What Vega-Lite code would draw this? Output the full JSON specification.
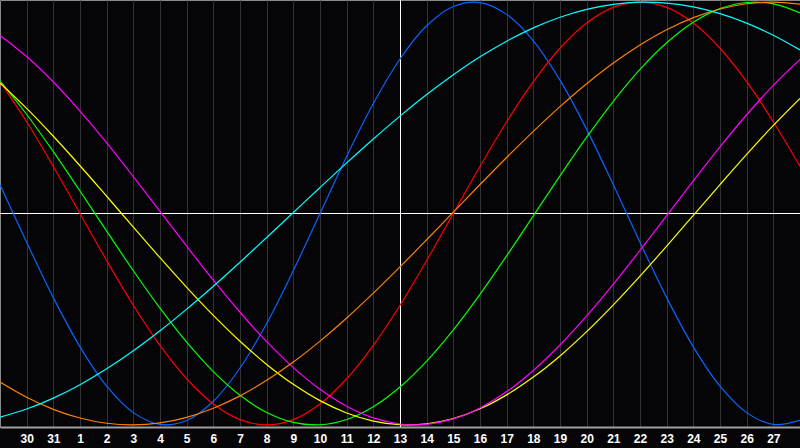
{
  "$schema": "https://vega.github.io/schema/vega-lite/v6.json",
  "width": 800,
  "height": 427,
  "padding": {"left": 0, "top": 0, "right": 0, "bottom": 21},
  "autosize": {"type": "none"},
  "background": "#050508",
  "config": {
    "view": {"stroke": "#8a8a8a", "strokeWidth": 1}
  },
  "datasets": {
    "curves": [
      {"d":0,"s":"physical","v":0.136},{"d":1,"s":"physical","v":-0.136},{"d":2,"s":"physical","v":-0.398},{"d":3,"s":"physical","v":-0.631},{"d":4,"s":"physical","v":-0.817},{"d":5,"s":"physical","v":-0.942},{"d":6,"s":"physical","v":-0.998},{"d":7,"s":"physical","v":-0.979},{"d":8,"s":"physical","v":-0.888},{"d":9,"s":"physical","v":-0.731},{"d":10,"s":"physical","v":-0.52},{"d":11,"s":"physical","v":-0.27},{"d":12,"s":"physical","v":0},{"d":13,"s":"physical","v":0.27},{"d":14,"s":"physical","v":0.52},{"d":15,"s":"physical","v":0.731},{"d":16,"s":"physical","v":0.888},{"d":17,"s":"physical","v":0.979},{"d":18,"s":"physical","v":0.998},{"d":19,"s":"physical","v":0.942},{"d":20,"s":"physical","v":0.817},{"d":21,"s":"physical","v":0.631},{"d":22,"s":"physical","v":0.398},{"d":23,"s":"physical","v":0.136},{"d":24,"s":"physical","v":-0.136},{"d":25,"s":"physical","v":-0.398},{"d":26,"s":"physical","v":-0.631},{"d":27,"s":"physical","v":-0.817},{"d":28,"s":"physical","v":-0.942},{"d":29,"s":"physical","v":-0.998},{"d":30,"s":"physical","v":-0.979},
      {"d":0,"s":"emotional","v":0.6235},{"d":1,"s":"emotional","v":0.4339},{"d":2,"s":"emotional","v":0.2225},{"d":3,"s":"emotional","v":0},{"d":4,"s":"emotional","v":-0.2225},{"d":5,"s":"emotional","v":-0.4339},{"d":6,"s":"emotional","v":-0.6235},{"d":7,"s":"emotional","v":-0.7818},{"d":8,"s":"emotional","v":-0.901},{"d":9,"s":"emotional","v":-0.9749},{"d":10,"s":"emotional","v":-1},{"d":11,"s":"emotional","v":-0.9749},{"d":12,"s":"emotional","v":-0.901},{"d":13,"s":"emotional","v":-0.7818},{"d":14,"s":"emotional","v":-0.6235},{"d":15,"s":"emotional","v":-0.4339},{"d":16,"s":"emotional","v":-0.2225},{"d":17,"s":"emotional","v":0},{"d":18,"s":"emotional","v":0.2225},{"d":19,"s":"emotional","v":0.4339},{"d":20,"s":"emotional","v":0.6235},{"d":21,"s":"emotional","v":0.7818},{"d":22,"s":"emotional","v":0.901},{"d":23,"s":"emotional","v":0.9749},{"d":24,"s":"emotional","v":1},{"d":25,"s":"emotional","v":0.9749},{"d":26,"s":"emotional","v":0.901},{"d":27,"s":"emotional","v":0.7818},{"d":28,"s":"emotional","v":0.6235},{"d":29,"s":"emotional","v":0.4339},{"d":30,"s":"emotional","v":0.2225},
      {"d":0,"s":"intellectual","v":0.6272},{"d":1,"s":"intellectual","v":0.4684},{"d":2,"s":"intellectual","v":0.2927},{"d":3,"s":"intellectual","v":0.1064},{"d":4,"s":"intellectual","v":-0.0837},{"d":5,"s":"intellectual","v":-0.2708},{"d":6,"s":"intellectual","v":-0.448},{"d":7,"s":"intellectual","v":-0.609},{"d":8,"s":"intellectual","v":-0.7482},{"d":9,"s":"intellectual","v":-0.8602},{"d":10,"s":"intellectual","v":-0.9412},{"d":11,"s":"intellectual","v":-0.9881},{"d":12,"s":"intellectual","v":-0.9993},{"d":13,"s":"intellectual","v":-0.9744},{"d":14,"s":"intellectual","v":-0.9143},{"d":15,"s":"intellectual","v":-0.8211},{"d":16,"s":"intellectual","v":-0.6983},{"d":17,"s":"intellectual","v":-0.5502},{"d":18,"s":"intellectual","v":-0.3822},{"d":19,"s":"intellectual","v":-0.2004},{"d":20,"s":"intellectual","v":-0.0113},{"d":21,"s":"intellectual","v":0.1781},{"d":22,"s":"intellectual","v":0.361},{"d":23,"s":"intellectual","v":0.531},{"d":24,"s":"intellectual","v":0.6817},{"d":25,"s":"intellectual","v":0.8078},{"d":26,"s":"intellectual","v":0.9048},{"d":27,"s":"intellectual","v":0.9691},{"d":28,"s":"intellectual","v":0.9983},{"d":29,"s":"intellectual","v":0.9914},{"d":30,"s":"intellectual","v":0.9487},
      {"d":0,"s":"aesthetic","v":0.618},{"d":1,"s":"aesthetic","v":0.497},{"d":2,"s":"aesthetic","v":0.3654},{"d":3,"s":"aesthetic","v":0.226},{"d":4,"s":"aesthetic","v":0.0816},{"d":5,"s":"aesthetic","v":-0.0644},{"d":6,"s":"aesthetic","v":-0.209},{"d":7,"s":"aesthetic","v":-0.3491},{"d":8,"s":"aesthetic","v":-0.4818},{"d":9,"s":"aesthetic","v":-0.6043},{"d":10,"s":"aesthetic","v":-0.7139},{"d":11,"s":"aesthetic","v":-0.8082},{"d":12,"s":"aesthetic","v":-0.8853},{"d":13,"s":"aesthetic","v":-0.9436},{"d":14,"s":"aesthetic","v":-0.9818},{"d":15,"s":"aesthetic","v":-0.999},{"d":16,"s":"aesthetic","v":-0.9949},{"d":17,"s":"aesthetic","v":-0.9697},{"d":18,"s":"aesthetic","v":-0.9238},{"d":19,"s":"aesthetic","v":-0.8581},{"d":20,"s":"aesthetic","v":-0.7739},{"d":21,"s":"aesthetic","v":-0.6738},{"d":22,"s":"aesthetic","v":-0.559},{"d":23,"s":"aesthetic","v":-0.4324},{"d":24,"s":"aesthetic","v":-0.2964},{"d":25,"s":"aesthetic","v":-0.1542},{"d":26,"s":"aesthetic","v":-0.0087},{"d":27,"s":"aesthetic","v":0.1369},{"d":28,"s":"aesthetic","v":0.2797},{"d":29,"s":"aesthetic","v":0.4166},{"d":30,"s":"aesthetic","v":0.5445},
      {"d":0,"s":"intuitive","v":0.8425},{"d":1,"s":"intuitive","v":0.7424},{"d":2,"s":"intuitive","v":0.622},{"d":3,"s":"intuitive","v":0.4847},{"d":4,"s":"intuitive","v":0.3341},{"d":5,"s":"intuitive","v":0.1743},{"d":6,"s":"intuitive","v":0.0099},{"d":7,"s":"intuitive","v":-0.1547},{"d":8,"s":"intuitive","v":-0.3153},{"d":9,"s":"intuitive","v":-0.4672},{"d":10,"s":"intuitive","v":-0.6064},{"d":11,"s":"intuitive","v":-0.729},{"d":12,"s":"intuitive","v":-0.8318},{"d":13,"s":"intuitive","v":-0.9118},{"d":14,"s":"intuitive","v":-0.9669},{"d":15,"s":"intuitive","v":-0.9957},{"d":16,"s":"intuitive","v":-0.9974},{"d":17,"s":"intuitive","v":-0.9718},{"d":18,"s":"intuitive","v":-0.9197},{"d":19,"s":"intuitive","v":-0.8425},{"d":20,"s":"intuitive","v":-0.7424},{"d":21,"s":"intuitive","v":-0.622},{"d":22,"s":"intuitive","v":-0.4847},{"d":23,"s":"intuitive","v":-0.3341},{"d":24,"s":"intuitive","v":-0.1743},{"d":25,"s":"intuitive","v":-0.0099},{"d":26,"s":"intuitive","v":0.1547},{"d":27,"s":"intuitive","v":0.3153},{"d":28,"s":"intuitive","v":0.4672},{"d":29,"s":"intuitive","v":0.6064},{"d":30,"s":"intuitive","v":0.729},
      {"d":0,"s":"awareness","v":-0.7973},{"d":1,"s":"awareness","v":-0.8694},{"d":2,"s":"awareness","v":-0.9264},{"d":3,"s":"awareness","v":-0.9676},{"d":4,"s":"awareness","v":-0.9923},{"d":5,"s":"awareness","v":-1},{"d":6,"s":"awareness","v":-0.9906},{"d":7,"s":"awareness","v":-0.9642},{"d":8,"s":"awareness","v":-0.9214},{"d":9,"s":"awareness","v":-0.8628},{"d":10,"s":"awareness","v":-0.7893},{"d":11,"s":"awareness","v":-0.7025},{"d":12,"s":"awareness","v":-0.6036},{"d":13,"s":"awareness","v":-0.4943},{"d":14,"s":"awareness","v":-0.3766},{"d":15,"s":"awareness","v":-0.2525},{"d":16,"s":"awareness","v":-0.124},{"d":17,"s":"awareness","v":0.0065},{"d":18,"s":"awareness","v":0.137},{"d":19,"s":"awareness","v":0.2651},{"d":20,"s":"awareness","v":0.3887},{"d":21,"s":"awareness","v":0.5057},{"d":22,"s":"awareness","v":0.6139},{"d":23,"s":"awareness","v":0.7118},{"d":24,"s":"awareness","v":0.7973},{"d":25,"s":"awareness","v":0.8694},{"d":26,"s":"awareness","v":0.9264},{"d":27,"s":"awareness","v":0.9676},{"d":28,"s":"awareness","v":0.9923},{"d":29,"s":"awareness","v":1},{"d":30,"s":"awareness","v":0.9906},
      {"d":0,"s":"spiritual","v":-0.9634},{"d":1,"s":"spiritual","v":-0.9249},{"d":2,"s":"spiritual","v":-0.8734},{"d":3,"s":"spiritual","v":-0.8097},{"d":4,"s":"spiritual","v":-0.7346},{"d":5,"s":"spiritual","v":-0.6492},{"d":6,"s":"spiritual","v":-0.5547},{"d":7,"s":"spiritual","v":-0.4524},{"d":8,"s":"spiritual","v":-0.3438},{"d":9,"s":"spiritual","v":-0.2303},{"d":10,"s":"spiritual","v":-0.1136},{"d":11,"s":"spiritual","v":0.0047},{"d":12,"s":"spiritual","v":0.1229},{"d":13,"s":"spiritual","v":0.2395},{"d":14,"s":"spiritual","v":0.3527},{"d":15,"s":"spiritual","v":0.4608},{"d":16,"s":"spiritual","v":0.5626},{"d":17,"s":"spiritual","v":0.6564},{"d":18,"s":"spiritual","v":0.7412},{"d":19,"s":"spiritual","v":0.8153},{"d":20,"s":"spiritual","v":0.878},{"d":21,"s":"spiritual","v":0.9285},{"d":22,"s":"spiritual","v":0.9659},{"d":23,"s":"spiritual","v":0.9897},{"d":24,"s":"spiritual","v":0.9997},{"d":25,"s":"spiritual","v":0.9956},{"d":26,"s":"spiritual","v":0.9776},{"d":27,"s":"spiritual","v":0.9458},{"d":28,"s":"spiritual","v":0.9007},{"d":29,"s":"spiritual","v":0.8429},{"d":30,"s":"spiritual","v":0.7733}
    ],
    "today": [{"d": 15}],
    "zero": [{"v": 0}]
  },
  "layer": [
    {
      "data": {"name": "today"},
      "mark": {"type": "rule", "color": "#ffffff", "strokeWidth": 1, "xOffset": 0.5},
      "encoding": {
        "x": {
          "field": "d", "type": "quantitative",
          "scale": {"domain": [0, 30], "nice": false, "zero": false},
          "axis": {
            "title": null,
            "values": [1,2,3,4,5,6,7,8,9,10,11,12,13,14,15,16,17,18,19,20,21,22,23,24,25,26,27,28,29],
            "labelExpr": "datum.value <= 2 ? datum.value + 29 : datum.value - 2",
            "grid": true, "gridColor": "#333333", "gridWidth": 1,
            "ticks": false, "domainColor": "#a0a0a0", "domainWidth": 2,
            "labelColor": "#ffffff", "labelFont": "Liberation Sans", "labelFontWeight": "bold",
            "labelFontSize": 12, "labelPadding": 6, "labelOverlap": false, "labelFlush": false
          }
        }
      }
    },
    {
      "data": {"name": "zero"},
      "mark": {"type": "rule", "color": "#ffffff", "strokeWidth": 1},
      "encoding": {
        "y": {"field": "v", "type": "quantitative", "scale": {"domain": [-1.01, 1.01], "nice": false, "zero": false}, "axis": null}
      }
    },
    {
      "data": {"name": "curves"},
      "mark": {"type": "line", "strokeWidth": 1.2, "interpolate": "catmull-rom"},
      "encoding": {
        "x": {
          "field": "d", "type": "quantitative",
          "scale": {"domain": [0, 30], "nice": false, "zero": false},
          "axis": {
            "title": null,
            "values": [1,2,3,4,5,6,7,8,9,10,11,12,13,14,15,16,17,18,19,20,21,22,23,24,25,26,27,28,29],
            "labelExpr": "datum.value <= 2 ? datum.value + 29 : datum.value - 2",
            "grid": true, "gridColor": "#333333", "gridWidth": 1,
            "ticks": false, "domainColor": "#a0a0a0", "domainWidth": 2,
            "labelColor": "#ffffff", "labelFont": "Liberation Sans", "labelFontWeight": "bold",
            "labelFontSize": 12, "labelPadding": 6, "labelOverlap": false, "labelFlush": false
          }
        },
        "y": {"field": "v", "type": "quantitative", "scale": {"domain": [-1.01, 1.01], "nice": false, "zero": false}, "axis": null},
        "color": {
          "field": "s", "type": "nominal", "legend": null,
          "scale": {
            "domain": ["spiritual", "awareness", "intuitive", "aesthetic", "intellectual", "emotional", "physical"],
            "range": ["#00ffff", "#ff8000", "#ff00ff", "#ffff00", "#00ff00", "#ff0000", "#0a64ff"]
          }
        }
      }
    }
  ]
}
